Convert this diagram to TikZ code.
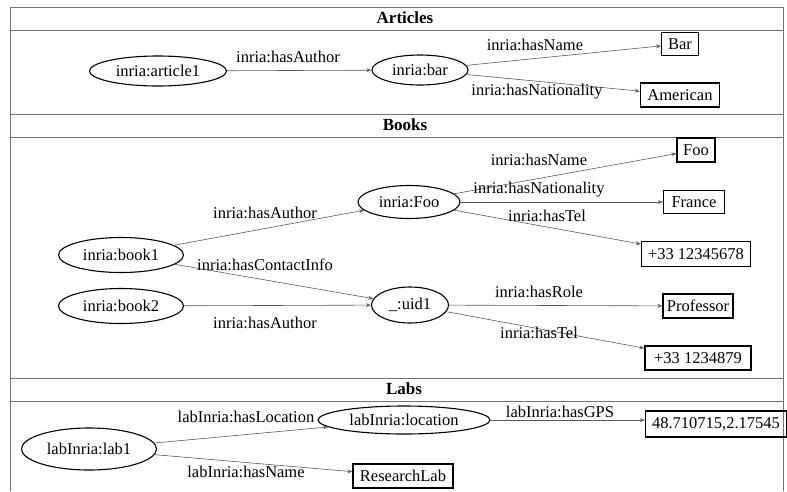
\documentclass[tikz,border=0pt]{standalone}
\usepackage{fontspec}
\setmainfont{Liberation Serif}
\usetikzlibrary{shapes.geometric,arrows.meta}
\begin{document}
\begin{tikzpicture}[x=1pt,y=-1pt,
  res/.style={ellipse,draw,line width=1.1pt,inner sep=0pt,font=\fontsize{16.5}{18}\selectfont},
  lit/.style={rectangle,draw,line width=1.1pt,inner sep=0pt,font=\fontsize{16.5}{18}\selectfont},
  lbl/.style={inner sep=0pt,font=\fontsize{16.5}{18}\selectfont},
  hdr/.style={inner sep=0pt,font=\fontsize{17}{19}\selectfont\bfseries},
  edge/.style={draw=black!65,line width=0.6pt,-{Stealth[length=5pt,width=4pt,open]}},
  frame/.style={draw=black!55,line width=0.9pt}]
\useasboundingbox (0,0) rectangle (787,491);
% frame
\draw[frame,line width=1.4pt] (10,7.5) -- (783,7.5);
\draw[frame] (10,7) -- (10,491);
\draw[frame] (783,7) -- (783,491);
\draw[frame] (10,30) -- (783,30);
\draw[frame] (10,114) -- (783,114);
\draw[frame] (10,137) -- (783,137);
\draw[frame] (10,378) -- (783,378);
\draw[frame] (10,401) -- (783,401);
\node[hdr] (hA) at (405,18) {Articles};
\node[hdr] (hB) at (405,125) {Books};
\node[hdr] (hL) at (404,389) {Labs};
% Articles
\node[res,minimum width=137pt,minimum height=30pt] (art1) at (158,71) {inria:article1};
\node[res,minimum width=96pt,minimum height=30pt] (bar) at (420,70) {inria:bar};
\node[lit,minimum width=37pt,minimum height=23pt] (lbar) at (680,44) {Bar};
\node[lit,minimum width=79pt,minimum height=24pt] (lam) at (680,95) {American};
\draw[edge] (art1) -- (bar);
\draw[edge] (bar) -- (lbar);
\draw[edge] (bar) -- (lam);
\node[lbl] (t1) at (288,57) {inria:hasAuthor};
\node[lbl] (t2) at (535,45) {inria:hasName};
\node[lbl] (t3) at (537,92) {inria:hasNationality};
% Books
\node[res,minimum width=102pt,minimum height=33pt] (foo) at (409,202) {inria:Foo};
\node[res,minimum width=125pt,minimum height=35pt] (b1) at (121,255) {inria:book1};
\node[res,minimum width=125pt,minimum height=35pt] (b2) at (121,306) {inria:book2};
\node[res,minimum width=77pt,minimum height=36pt] (uid) at (410,305) {\_:uid1};
\node[lit,minimum width=38pt,minimum height=24pt] (lfoo) at (696,150) {Foo};
\node[lit,minimum width=61pt,minimum height=23pt] (lfr) at (694,202) {France};
\node[lit,minimum width=109pt,minimum height=25pt] (ltel1) at (696,254) {+33 12345678};
\node[lit,minimum width=70pt,minimum height=24pt] (lprof) at (698,306) {Professor};
\node[lit,minimum width=106pt,minimum height=24pt] (ltel2) at (698,358) {+33 1234879};
\draw[edge] (b1) -- (foo);
\draw[edge] (b1) -- (uid);
\draw[edge] (b2) -- (uid);
\draw[edge] (foo) -- (lfoo);
\draw[edge] (foo) -- (lfr);
\draw[edge] (foo) -- (ltel1);
\draw[edge] (uid) -- (lprof);
\draw[edge] (uid) -- (ltel2);
\node[lbl] (t4) at (265,213) {inria:hasAuthor};
\node[lbl] (t5) at (265,265) {inria:hasContactInfo};
\node[lbl] (t6) at (265,323) {inria:hasAuthor};
\node[lbl] (t7) at (539,160) {inria:hasName};
\node[lbl] (t8) at (539,190) {inria:hasNationality};
\node[lbl] (t9) at (547,216) {inria:hasTel};
\node[lbl] (t10) at (539,292) {inria:hasRole};
\node[lbl] (t11) at (539,333) {inria:hasTel};
% Labs
\node[res,minimum width=135pt,minimum height=42pt] (lab1) at (89,449) {labInria:lab1};
\node[res,minimum width=172pt,minimum height=28pt] (loc) at (404,420) {labInria:location};
\node[lit,minimum width=141pt,minimum height=26pt] (gps) at (716,424) {48.710715,2.17545};
\node[lit,minimum width=100pt,minimum height=24pt] (rl) at (403,476) {ResearchLab};
\draw[edge] (lab1) -- (loc);
\draw[edge] (lab1) -- (rl);
\draw[edge] (loc.east) -- (gps.west |- loc.east);
\node[lbl] (t12) at (246,417) {labInria:hasLocation};
\node[lbl] (t13) at (246,472) {labInria:hasName};
\node[lbl] (t14) at (560,412) {labInria:hasGPS};
\end{tikzpicture}
\end{document}
